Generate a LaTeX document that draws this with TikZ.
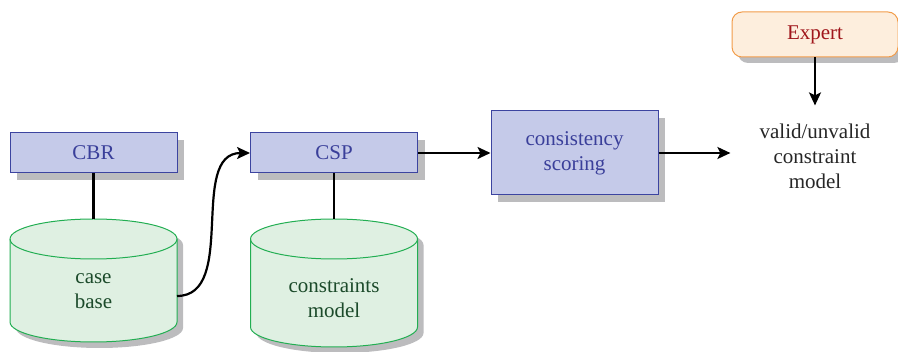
\documentclass[tikz,border=0pt]{standalone}
\usepackage{fontspec}
\setmainfont{Liberation Serif}
\usetikzlibrary{arrows.meta,shadows}
\definecolor{boxfill}{HTML}{C5CAE9}
\definecolor{boxdraw}{HTML}{3C44A0}
\definecolor{boxtext}{HTML}{3A3F9A}
\definecolor{cylfill}{HTML}{DFF0E2}
\definecolor{cyldraw}{HTML}{22AE52}
\definecolor{cyltext}{HTML}{1B4A2A}
\definecolor{expfill}{HTML}{FDEEDD}
\definecolor{expdraw}{HTML}{F29C4A}
\definecolor{exptext}{HTML}{A0161B}
\definecolor{shadowgray}{HTML}{BCBCBE}
\tikzset{
  txt/.style={font=\fontsize{21}{25}\selectfont, align=center},
  procbox/.style={txt, draw=boxdraw, fill=boxfill, text=boxtext, line width=1pt,
    minimum width=167pt, inner sep=0pt,
    drop shadow={shadow xshift=7pt, shadow yshift=-7pt, fill=shadowgray, opacity=1}},
  expbox/.style={txt, draw=expdraw, fill=expfill, text=exptext, line width=1pt,
    rounded corners=10pt, minimum width=166pt, minimum height=45pt, inner sep=0pt,
    drop shadow={shadow xshift=6pt, shadow yshift=-6pt, fill=shadowgray, opacity=1}},
  arr/.style={line width=2.2pt, -{Stealth[length=13pt,width=12pt,inset=3pt]}},
  link/.style={line width=2.2pt},
  cylbody/.style={fill=cylfill, draw=cyldraw, line width=1pt},
}
\newcommand\mycylinder[4]{% cx, top-ellipse centre y, bottom-ellipse centre y, rx
  \fill[shadowgray] ({#1-#4+6},{#2+6}) -- ({#1-#4+6},{#3+6}) arc[start angle=180,end angle=360,x radius=#4pt,y radius=20pt]
     -- ({#1+#4+6},{#2+6}) arc[start angle=0,end angle=180,x radius=#4pt,y radius=20pt] -- cycle;
  \draw[cylbody] ({#1-#4},#2) -- ({#1-#4},#3) arc[start angle=180,end angle=360,x radius=#4pt,y radius=20pt]
     -- ({#1+#4},#2) arc[start angle=0,end angle=180,x radius=#4pt,y radius=20pt] -- cycle;
  \draw[cyldraw, line width=1pt] ({#1-#4},#2) arc[start angle=180,end angle=360,x radius=#4pt,y radius=20pt];
}
\begin{document}
\begin{tikzpicture}[x=1pt,y=-1pt]
\useasboundingbox (0,0) rectangle (898,352);

% cylinders
\mycylinder{93.5}{239}{322}{83.5}
\mycylinder{334}{239}{327}{83.5}
\node[txt, text=cyltext] (cb) at (93.5,291) {case\\base};
\node[txt, text=cyltext] (cm) at (334,298) {constraints\\model};
\coordinate (cbtop) at (93.5,219);
\coordinate (cmtop) at (334,219);
\coordinate (cbright) at (177,296);

% boxes
\node[procbox, minimum height=40pt] (cbr) at (93.5,153) {CBR};
\node[procbox, minimum height=40pt] (csp) at (334,153) {CSP};
\node[procbox, minimum height=84pt] (cons) at (574.5,153) {consistency\\scoring};
\node[expbox] (exp) at (815,34.5) {Expert};
\node[txt, text=black!85, inner xsep=29pt, inner ysep=18pt] (res) at (815,156) {valid/unvalid\\constraint\\model};

% connectors
\draw[link] (cbr.south) -- (cbtop);
\draw[link] (csp.south) -- (cmtop);
\draw[arr] (cbright) .. controls (238,296) and (188,153) .. (csp.west);
\draw[arr] (csp.east) -- (cons.west);
\draw[arr] (cons.east) -- (cons.east -| res.west);
\draw[arr] (exp.south) -- (res.north);
\end{tikzpicture}
\end{document}
